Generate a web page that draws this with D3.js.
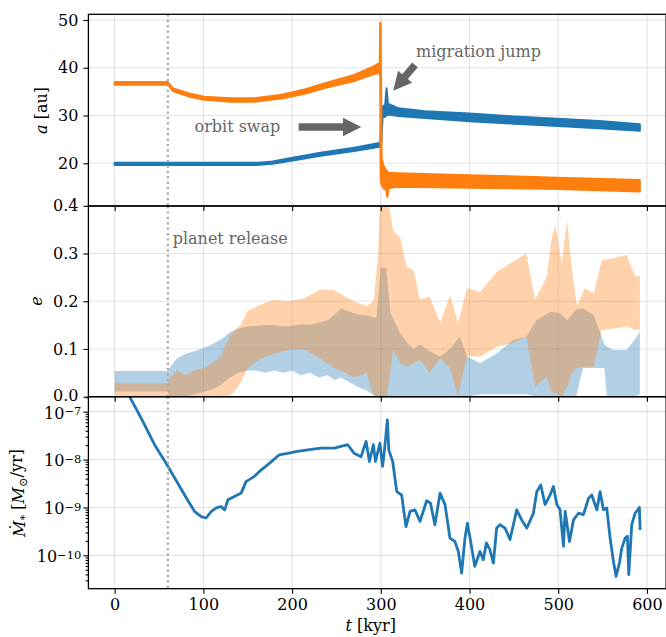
<!DOCTYPE html>
<html><head><meta charset="utf-8">
<script src="https://cdn.jsdelivr.net/npm/d3@7"></script>
<style>body{margin:0;background:#fff} text{font-family:"DejaVu Serif",serif}</style>
</head><body><svg id="c" width="666" height="637"></svg>
<script>
// ---------------- data ----------------
const xTicks = [0, 100, 200, 300, 400, 500, 600];
const aTicks = [20, 30, 40, 50];
const eTicks = [0, 0.1, 0.2, 0.3, 0.4];
const mdotTicks = [1e-7, 1e-8, 1e-9, 1e-10];
const releaseT = 60;

// semi-major axis bands [t (kyr), low (au), high (au)]
const a1Band = [[0,19.65,20.1],[60,19.65,20.1],[120,19.65,20.1],[163,19.67,20.12],[178,19.9,20.4],[199,20.55,21.1],
 [232,21.6,22.2],[270,22.55,23.25],[297,23.4,24.2],[299.5,23.5,24.4],[300.5,24.0,30.5],[302,29.6,31.8],[305,29.8,32.3],
 [306.5,30.0,35.7],[308,30.2,32.5],[320,29.9,31.5],[350,29.5,30.9],[400,28.8,30.4],[450,28.3,29.8],[500,27.8,29.3],
 [550,27.3,28.8],[592,26.8,28.2]];
const a2Band = [[0,36.45,37.0],[60,36.45,37.0],[66,35.05,35.65],[83,34.0,34.65],[101,33.3,33.95],[131,32.9,33.6],
 [157,32.9,33.6],[188,33.55,34.35],[214,34.55,35.45],[240,35.9,36.9],[270,37.2,38.5],[292,38.7,40.3],[298.8,38.9,41.0],
 [299.3,38.5,49.4],[299.8,16.5,49.4],[301,15.5,21.0],[303,14.8,19.5],[306,14.5,18.5],[307.3,13.0,18.3],[309,14.8,18.0],
 [320,15.1,17.9],[400,14.9,17.5],[500,14.6,17.0],[592,14.1,16.5]];

// eccentricity envelopes [t, low, high]
const e1Band = [[0,0.011,0.054],[60,0.011,0.054],[62,0,0.06],[70,0,0.08],[80,0,0.09],[90,0.005,0.095],[100,0.01,0.102],
 [110,0.015,0.11],[120,0.025,0.12],[130,0.04,0.135],[140,0.05,0.143],[150,0.055,0.147],[160,0.055,0.148],[170,0.05,0.15],
 [180,0.055,0.15],[190,0.05,0.147],[200,0.055,0.148],[210,0.045,0.152],[220,0.05,0.15],[230,0.04,0.155],[240,0.045,0.16],
 [248,0.035,0.172],[255,0.04,0.185],[265,0.03,0.178],[275,0.02,0.172],[285,0.012,0.17],[295,0,0.165],
 [300,0,0.27],[306,0,0.27],[311,0,0.175],[322,0,0.133],[330,0,0.112],[337,0,0.1],[344,0,0.11],[355,0,0.095],[367,0,0.084],
 [378,0,0.1],[389,0,0.126],[397,0,0.084],[412,0.005,0.07],[431,0.005,0.091],[449,0.005,0.119],[464,0.005,0.126],
 [476,0,0.161],[491,0,0.178],[502,0,0.175],[510,0,0.16],[520,0,0.182],[528,0.06,0.185],[540,0.06,0.171],[552,0.06,0.11],
 [555,0,0.105],[562,0,0.098],[577,0,0.098],[586,0,0.119],[592,0.005,0.136]];
const e2Band = [[0,0,0.028],[60,0,0.028],[63,0,0.04],[70,0,0.055],[80,0,0.045],[90,0,0.055],[100,0,0.06],[110,0,0.07],
 [120,0,0.085],[128,0,0.12],[135,0.01,0.14],[142,0.03,0.15],[150,0.06,0.18],[165,0.08,0.193],[180,0.09,0.203],
 [195,0.098,0.2],[213,0.1,0.206],[232,0.08,0.225],[247,0.06,0.223],[260,0.05,0.21],[270,0.04,0.2],[284,0.05,0.19],
 [292,0,0.2],[297,0,0.3],[299,0,0.42],[307,0,0.42],[314,0.098,0.349],[322,0.07,0.332],[329,0.063,0.272],[337,0.07,0.265],
 [344,0.077,0.203],[355,0.05,0.21],[367,0.08,0.154],[378,0.06,0.213],[387,0,0.154],[397,0.084,0.227],[412,0.084,0.22],
 [431,0.105,0.262],[449,0.112,0.283],[464,0.126,0.3],[474,0.021,0.203],[487,0.042,0.251],[493,0.01,0.335],
 [497,0.007,0.36],[504,0,0.279],[510,0.02,0.37],[515,0.049,0.272],[521,0.06,0.19],[530,0.063,0.227],[540,0.063,0.216],
 [549,0.14,0.286],[562,0.143,0.29],[577,0.147,0.297],[587,0.14,0.251],[592,0.14,0.255]];

// stellar accretion rate [t, log10(Mdot / Msun/yr)]
const mdotLog = [[0,-6.1],[17,-6.69],[30,-7.14],[45,-7.69],[59,-8.11],[71,-8.49],[83,-8.87],[90,-9.08],[97.6,-9.19],
 [103,-9.22],[109,-9.08],[114.5,-9.01],[120,-8.98],[124,-9.05],[127.7,-8.84],[135,-8.77],[142.6,-8.7],[148,-8.46],
 [157.6,-8.35],[165,-8.22],[174.4,-8.08],[185.6,-7.9],[195,-7.87],[206,-7.83],[217.6,-7.8],[232.6,-7.76],[247.7,-7.76],
 [262.7,-7.69],[270,-7.87],[277.8,-7.94],[283.4,-7.62],[287.2,-8.04],[291.6,-7.69],[294,-8.04],[299,-7.66],[302,-8.14],
 [304,-7.83],[307.4,-7.17],[309,-7.8],[313.4,-8.04],[318,-8.67],[323.5,-8.74],[328.4,-9.4],[333,-9.08],[338.5,-9.05],
 [344.2,-9.29],[351.7,-8.86],[356,-8.91],[361,-9.36],[366.8,-8.7],[372.4,-8.94],[378,-9.64],[383.6,-9.71],[387.4,-9.92],
 [391.1,-10.37],[394.9,-9.64],[397.6,-9.33],[400.6,-9.64],[406,-10.23],[411.8,-9.92],[415.5,-10.09],[419,-9.74],
 [423,-9.88],[426.9,-10.16],[430.6,-9.43],[434.4,-9.36],[440,-9.43],[445.7,-9.67],[453.2,-9.05],[458.8,-9.26],
 [464.5,-9.43],[472,-9.12],[475.8,-8.67],[480.3,-8.53],[485.2,-8.94],[490.8,-8.74],[494.6,-8.56],[498.4,-8.94],
 [502.1,-9.05],[505.9,-9.81],[507.8,-9.08],[512.7,-9.71],[517.2,-9.26],[522.8,-9.12],[528.4,-9.15],[534.1,-8.81],
 [537.8,-8.74],[543.5,-9.05],[547.2,-8.67],[551,-9.05],[554.7,-9.01],[558.5,-9.64],[562.2,-10.12],[565.2,-10.44],
 [569,-10.16],[571.6,-9.85],[575.4,-9.64],[578,-9.6],[579.5,-10.4],[582.9,-9.36],[586.7,-9.12],[589.7,-9.05],
 [591.5,-9.0],[592.3,-9.47]];

// ---------------- layout ----------------
const svg = d3.select("#c");
const X0 = 88.4, X1 = 666.1;
const panels = [{top:14.3,bottom:206},{top:206,bottom:396.7},{top:396.7,bottom:588.7}];
const x = d3.scaleLinear().domain([-29.6, 621.6]).range([X0, X1]);
const yA = d3.scaleLinear().domain([11.06, 51.19]).range([206, 14.3]);
const yE = d3.scaleLinear().domain([0, 0.4]).range([396.7, 205.8]);
const yM = d3.scaleLog().domain([Math.pow(10,-10.696), Math.pow(10,-6.6875)]).range([588.7, 396.7]);
const BLUE = "#1f77b4", ORANGE = "#ff7f0e";

const defs = svg.append("defs");
panels.forEach((p,i)=>{
  defs.append("clipPath").attr("id","clip"+i).append("rect")
    .attr("x",X0).attr("y",p.top).attr("width",X1-X0).attr("height",p.bottom-p.top);
});

// grids
function grid(yScale, yTicks, p){
  const g = svg.append("g");
  g.selectAll(".vx").data(xTicks).join("line")
    .attr("x1",d=>x(d)).attr("x2",d=>x(d)).attr("y1",p.top).attr("y2",p.bottom)
    .attr("stroke","#b0b0b0").attr("stroke-opacity",0.35).attr("stroke-width",1.1);
  g.selectAll(".hy").data(yTicks).join("line")
    .attr("x1",X0).attr("x2",X1).attr("y1",d=>yScale(d)).attr("y2",d=>yScale(d))
    .attr("stroke","#b0b0b0").attr("stroke-opacity",0.35).attr("stroke-width",1.1);
}
grid(yA, aTicks, panels[0]);
grid(yE, eTicks, panels[1]);
grid(yM, mdotTicks, panels[2]);

// panel 1: semi-major axes
const g1 = svg.append("g").attr("clip-path","url(#clip0)");
function band(g, data, yScale, color, opacity, strokeW){
  const ar = d3.area().x(d=>x(d[0])).y0(d=>yScale(d[1])).y1(d=>yScale(d[2]));
  g.append("path").attr("d", ar(data)).attr("fill", color).attr("fill-opacity", opacity)
    .attr("stroke", strokeW ? color : "none").attr("stroke-width", strokeW||0).attr("stroke-linejoin","round");
}
band(g1, a1Band, yA, BLUE, 1, 2);
band(g1, a2Band, yA, ORANGE, 1, 2);

// panel 2: eccentricities
const g2 = svg.append("g").attr("clip-path","url(#clip1)");
band(g2, e1Band, yE, BLUE, 0.35, 0);
band(g2, e2Band, yE, ORANGE, 0.35, 0);

// panel 3: accretion rate
const g3 = svg.append("g").attr("clip-path","url(#clip2)");
g3.append("path").datum(mdotLog)
  .attr("d", d3.line().x(d=>x(d[0])).y(d=>yM(Math.pow(10,d[1]))))
  .attr("fill","none").attr("stroke",BLUE).attr("stroke-width",2.8).attr("stroke-linejoin","round");

// release line
panels.forEach((p,i)=>{
  svg.append("line").attr("x1",x(releaseT)).attr("x2",x(releaseT)).attr("y1",p.top).attr("y2",p.bottom)
    .attr("stroke","#a8a8a8").attr("stroke-width",2.2).attr("stroke-dasharray","2.2,3.2");
});

// spines
panels.forEach(p=>{
  svg.append("rect").attr("x",X0).attr("y",p.top).attr("width",X1-X0).attr("height",p.bottom-p.top)
    .attr("fill","none").attr("stroke","#000").attr("stroke-width",1.3);
});

// axes
function styleAxis(g){
  g.select(".domain").remove();
  g.selectAll("line").attr("stroke","#000").attr("stroke-width",1.1);
  g.selectAll("text").attr("font-size",16).attr("fill","#000").attr("font-family","DejaVu Serif");
}
panels.forEach((p,i)=>{
  const ax = d3.axisBottom(x).tickValues(xTicks).tickSize(5).tickPadding(5);
  if(i<2) ax.tickFormat("");
  const g = svg.append("g").attr("transform",`translate(0,${p.bottom})`).call(ax);
  styleAxis(g);
});
styleAxis(svg.append("g").attr("transform",`translate(${X0},0)`)
  .call(d3.axisLeft(yA).tickValues(aTicks).tickSize(5).tickPadding(5).tickFormat(d3.format("d"))));
const ge = svg.append("g").attr("transform",`translate(${X0},0)`)
  .call(d3.axisLeft(yE).tickValues(eTicks).tickSize(5).tickPadding(5).tickFormat(d3.format(".1f")));
styleAxis(ge);
ge.selectAll(".tick text").filter(d=>d===0).attr("dy","0.22em");
const gm = svg.append("g").attr("transform",`translate(${X0},0)`)
  .call(d3.axisLeft(yM).tickValues(mdotTicks).tickSize(5).tickPadding(5).tickFormat(""));
styleAxis(gm);
gm.selectAll(".tick").each(function(d){
  const t = d3.select(this).append("text").attr("x",-7).attr("dy","0.4em").attr("text-anchor","end")
    .attr("font-size",16).attr("fill","#000");
  t.append("tspan").text("10");
  t.append("tspan").attr("font-size",11.5).attr("dy","-0.3em").text("\u2212"+Math.round(-Math.log10(d)));
});
const minor = [];
for(let k=-11;k<=-7;k++) for(let m=2;m<=9;m++){ const v=m*Math.pow(10,k); if(v>yM.domain()[0] && v<yM.domain()[1]) minor.push(v); }
styleAxis(svg.append("g").attr("transform",`translate(${X0},0)`)
  .call(d3.axisLeft(yM).tickValues(minor).tickSize(2.8).tickFormat("")));

// axis labels
function ylab(tx, ty){ return svg.append("text").attr("transform",`translate(${tx},${ty}) rotate(-90)`)
  .attr("text-anchor","middle").attr("font-size",16).attr("fill","#000"); }
const la = ylab(46.5,110.5); la.append("tspan").attr("font-style","italic").text("a"); la.append("tspan").text(" [au]");
const le = ylab(42,301); le.append("tspan").attr("font-style","italic").text("e");
const lm = ylab(25,493);
lm.append("tspan").attr("font-style","italic").text("\u1E40");
lm.append("tspan").attr("font-size",11.5).attr("dy","0.3em").text("*");
lm.append("tspan").attr("dy","-0.3em").text(" [");
lm.append("tspan").attr("font-style","italic").text("M");
lm.append("tspan").attr("font-size",11.5).attr("dy","0.3em").text("\u2299");
lm.append("tspan").attr("dy","-0.3em").text("/yr]");
const lt = svg.append("text").attr("x",x(300)-10).attr("y",631).attr("text-anchor","middle").attr("font-size",16).attr("fill","#000");
lt.append("tspan").attr("font-style","italic").text("t"); lt.append("tspan").text(" [kyr]");

// annotations
const GRAY = "#666666";
function arrow(x1,y1,x2,y2,sw,hw,hl){
  const dx=x2-x1, dy=y2-y1, L=Math.hypot(dx,dy), ux=dx/L, uy=dy/L, nx=-uy, ny=ux;
  const bx=x2-ux*hl, by=y2-uy*hl;
  const pts=[[x1+nx*sw/2,y1+ny*sw/2],[bx+nx*sw/2,by+ny*sw/2],[bx+nx*hw/2,by+ny*hw/2],[x2,y2],
             [bx-nx*hw/2,by-ny*hw/2],[bx-nx*sw/2,by-ny*sw/2],[x1-nx*sw/2,y1-ny*sw/2]];
  svg.append("polygon").attr("points",pts.map(p=>p.join(",")).join(" ")).attr("fill",GRAY);
}
arrow(x(207.4), yA(27.6), x(278), yA(27.6), 7.4, 18.4, 18.3);
arrow(x(338.6), yA(40.6), x(314), yA(35.2), 7.4, 18.4, 18.3);
svg.append("text").attr("x",x(90)).attr("y",yA(26.6)).attr("font-size",16).attr("fill",GRAY).text("orbit swap");
svg.append("text").attr("x",x(339.7)).attr("y",yA(42.2)).attr("font-size",16).attr("fill",GRAY).text("migration jump");
svg.append("text").attr("x",x(65.4)).attr("y",yE(0.321)).attr("font-size",16).attr("fill",GRAY).text("planet release");
</script></body></html>
